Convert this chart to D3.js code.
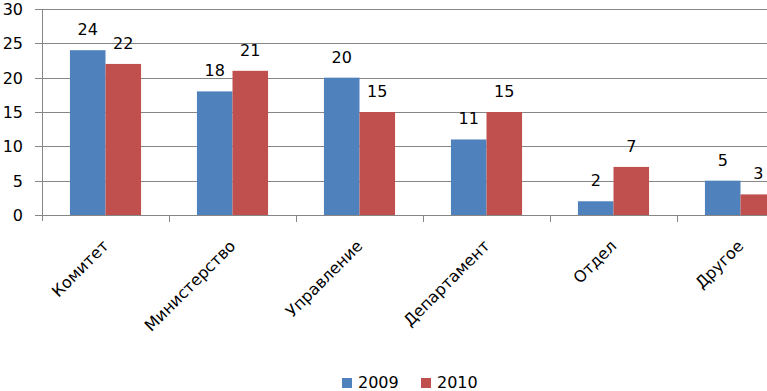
<!DOCTYPE html>
<html><head><meta charset="utf-8">
<script src="https://cdn.jsdelivr.net/npm/d3@7"></script>
<style>body{margin:0;background:#fff}svg{display:block}text{font-family:"DejaVu Sans",Verdana,sans-serif;font-size:16px;fill:#000}</style>
</head><body>
<script>
const categories = ["Комитет","Министерство","Управление","Департамент","Отдел","Другое"];
const seriesNames = ["2009","2010"];
const values2009 = [24,18,20,11,2,5];
const values2010 = [22,21,15,15,7,3];
const yTicks = [0,5,10,15,20,25,30];
const colors = ["#4F81BD","#C0504D"];

(function(){
const W=767,H=391;
const svg=d3.select("body").append("svg").attr("width",W).attr("height",H);
const pl=42, pr=804, pt=9, pb=215;
const x=d3.scaleBand().domain(categories).range([pl,pr]).padding(0);
const bw=x.bandwidth();
const x1=d3.scaleBand().domain(seriesNames).range([bw*0.22,bw*0.78]).padding(0);
const y=d3.scaleLinear().domain([0,30]).range([pb,pt]);
const grid="#868686";

svg.append("g").selectAll("line").data(yTicks).join("line")
 .attr("x1",35).attr("x2",pr).attr("y1",d=>Math.round(y(d))+0.5).attr("y2",d=>Math.round(y(d))+0.5)
 .attr("stroke",grid).attr("stroke-width",1);
svg.append("line").attr("x1",pl+0.5).attr("x2",pl+0.5).attr("y1",pt).attr("y2",pb+6).attr("stroke",grid);
svg.append("g").selectAll("line").data(categories.slice(1)).join("line")
 .attr("x1",d=>Math.round(x(d))+0.5).attr("x2",d=>Math.round(x(d))+0.5).attr("y1",pb).attr("y2",pb+7).attr("stroke",grid);
svg.append("g").selectAll("text").data(yTicks).join("text")
 .attr("x",23).attr("y",d=>y(d)+6).attr("text-anchor","end").text(d=>d);

const data=[values2009,values2010];
data.forEach((vals,si)=>{
  const g=svg.append("g");
  g.selectAll("rect").data(categories).join("rect")
   .attr("x",(c)=>x(c)+x1(seriesNames[si])).attr("width",x1.bandwidth())
   .attr("y",(c,i)=>y(vals[i])).attr("height",(c,i)=>y(0)-y(vals[i]))
   .attr("fill",colors[si]);
  g.selectAll("text").data(categories).join("text")
   .attr("x",(c)=>x(c)+x1(seriesNames[si])+x1.bandwidth()/2)
   .attr("y",(c,i)=>y(vals[i])-15).attr("text-anchor","middle").text((c,i)=>vals[i]);
});
svg.append("g").selectAll("text").data(categories).join("text")
 .attr("text-anchor","end")
 .attr("transform",d=>`translate(${x(d)+bw/2+4},${247}) rotate(-45)`)
 .text(d=>d);
const lg=svg.append("g");
const lx=[342,421];
seriesNames.forEach((s,i)=>{
  lg.append("rect").attr("x",lx[i]).attr("y",378).attr("width",10).attr("height",10).attr("fill",colors[i]);
  lg.append("text").attr("x",lx[i]+16).attr("y",388).text(s);
});
})();
</script>
</body></html>
